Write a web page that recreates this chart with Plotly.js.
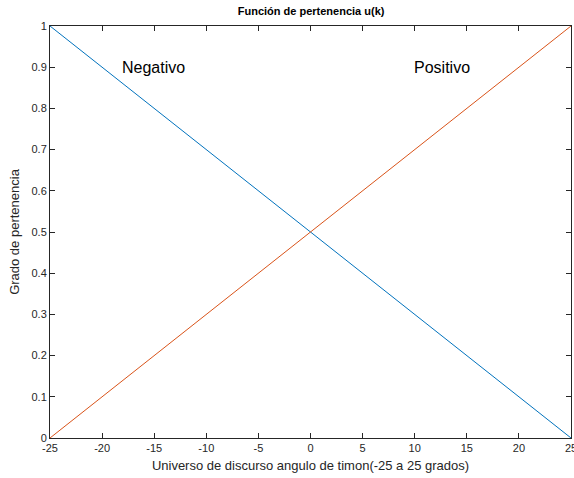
<!DOCTYPE html>
<html>
<head>
<meta charset="utf-8">
<script src="https://cdn.plot.ly/plotly-3.0.1.min.js"></script>
<style>html,body{margin:0;padding:0;background:#fff;}#chart{width:574px;height:478px;}</style>
</head>
<body>
<div id="chart"></div>
<script>
const xValues = [-25, 25];
const negativo = [1, 0];
const positivo = [0, 1];
const xTicks = [-25, -20, -15, -10, -5, 0, 5, 10, 15, 20, 25];
const yTicks = [0, 0.1, 0.2, 0.3, 0.4, 0.5, 0.6, 0.7, 0.8, 0.9, 1];
const labels = [{text: 'Negativo', x: -18, y: 0.9}, {text: 'Positivo', x: 10, y: 0.9}];

const font = 'Liberation Sans, Arial, sans-serif';
const traces = [
  {x: xValues, y: negativo, mode: 'lines', line: {color: '#0072BD', width: 1}, name: 'Negativo'},
  {x: xValues, y: positivo, mode: 'lines', line: {color: '#D95319', width: 1}, name: 'Positivo'}
];
const axisCommon = {
  showgrid: false, zeroline: false, showline: true, mirror: 'ticks',
  linecolor: '#262626', linewidth: 1, ticks: 'inside', ticklen: 5, tickcolor: '#262626',
  ticklabeloverflow: 'allow',
  tickfont: {family: font, size: 11, color: '#262626'}
};
const layout = {
  width: 574, height: 478,
  margin: {l: 50, r: 3, t: 26, b: 40},
  paper_bgcolor: '#fff', plot_bgcolor: '#fff',
  showlegend: false,
  title: {text: '<b>Función de pertenencia u(k)</b>', font: {family: font, size: 11, color: '#000'}, x: 0.542, xanchor: 'center', y: 0.977, yanchor: 'middle'},
  xaxis: Object.assign({}, axisCommon, {range: [-25, 25], tickvals: xTicks, ticktext: xTicks.map(String),
    title: {text: 'Universo de discurso angulo de timon(-25 a 25 grados)', font: {family: font, size: 13, color: '#262626'}, standoff: 7}}),
  yaxis: Object.assign({}, axisCommon, {range: [0, 1], tickvals: yTicks, ticktext: yTicks.map(String),
    title: {text: 'Grado de pertenencia', font: {family: font, size: 13, color: '#262626'}, standoff: 8}}),
  annotations: labels.map(l => ({text: l.text, x: l.x, y: l.y, xref: 'x', yref: 'y', xanchor: 'left', yanchor: 'middle', xshift: -3, showarrow: false, font: {family: font, size: 16, color: '#000'}}))
};
Plotly.newPlot('chart', traces, layout, {displayModeBar: false, staticPlot: true});
</script>
</body>
</html>
